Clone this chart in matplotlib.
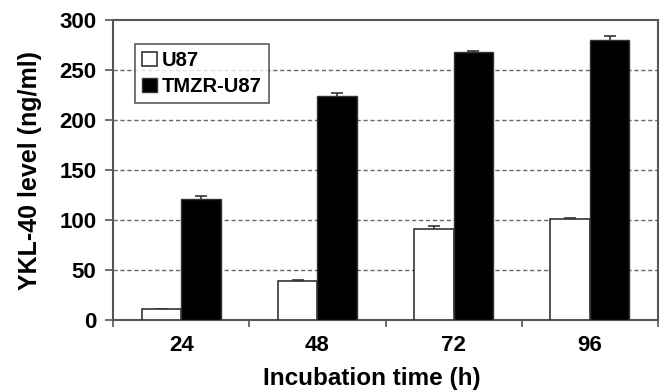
import matplotlib
matplotlib.use("Agg")
import matplotlib.pyplot as plt
import numpy as np

categories = ["24", "48", "72", "96"]
u87 = [11, 39, 91, 101]
u87_err = [0, 1, 3, 1]
tmzr = [121, 224, 268, 280]
tmzr_err = [3, 3, 1.5, 4]

plt.rcParams['font.family'] = ['Liberation Sans', 'DejaVu Sans']
plt.rcParams['font.weight'] = 'bold'

fig = plt.figure(figsize=(6.61, 3.91), dpi=100)
ax = fig.add_axes([113/661, 1-320/391, 545/661, 300/391])

x = np.arange(len(categories))
w = 0.29
spine_c = '#555555'
ax.bar(x - w/2, u87, w, color='white', edgecolor='#333333', linewidth=1.2, label='U87', zorder=3)
ax.bar(x + w/2, tmzr, w, color='black', edgecolor='#333333', linewidth=1.0, label='TMZR-U87', zorder=3)
ekw = dict(fmt='none', ecolor='#333333', elinewidth=1.2, capsize=4, capthick=1.2, zorder=2)
ax.errorbar(x - w/2, u87, yerr=u87_err, **ekw)
ax.errorbar(x + w/2, tmzr, yerr=tmzr_err, **ekw)

ax.set_xlim(-0.5, len(categories) - 0.5)
ax.set_ylim(0, 300)
ax.set_yticks(np.arange(0, 301, 50))
ax.set_xticks(x)
ax.set_xticklabels(categories)
ax.set_xticks(np.arange(-0.5, len(categories), 1), minor=True)
ax.tick_params(axis='x', which='major', length=0, labelsize=16, pad=11)
ax.tick_params(axis='x', which='minor', length=5, width=1.2, color=spine_c, direction='out')
ax.tick_params(axis='y', length=6, width=1.2, color=spine_c, labelsize=16, pad=6)
for lbl in ax.get_xticklabels() + ax.get_yticklabels():
    lbl.set_fontweight('bold')

for yv in [50, 100, 150, 200, 250]:
    ax.axhline(yv, color='#666666', linestyle=(0, (3, 2)), linewidth=1.0, zorder=1)

for s in ax.spines.values():
    s.set_color(spine_c)
    s.set_linewidth(1.5)

ax.set_ylabel('YKL-40 level (ng/ml)', fontsize=18, fontweight='bold')
ax.set_xlabel('Incubation time (h)', fontsize=17.5, fontweight='bold')
ax.yaxis.set_label_coords(-71/545, 0.5)
ax.xaxis.set_label_coords((372-113)/545, -70/300)
ax.xaxis.label.set_verticalalignment('bottom')

leg = ax.legend(loc='upper left', bbox_to_anchor=(22/545, 1-24/300),
                frameon=True, fancybox=False, edgecolor='#333333', handlelength=0.75,
                handleheight=0.75, handletextpad=0.25, borderpad=0.35, labelspacing=0.35,
                borderaxespad=0, prop={'weight': 'bold', 'size': 14.5})
leg.get_frame().set_linewidth(1.2)

fig.savefig('out.png', dpi=100)
